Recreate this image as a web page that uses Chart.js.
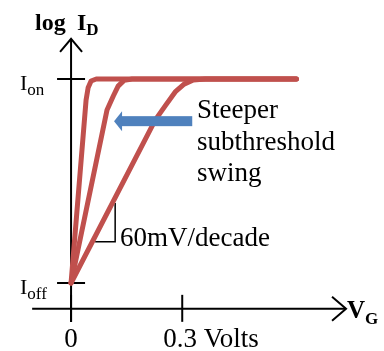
<!DOCTYPE html>
<html>
<head>
<meta charset="utf-8">
<title>Subthreshold swing</title>
<script src="https://cdn.jsdelivr.net/npm/chart.js"></script>
<style>
  html, body { margin: 0; padding: 0; background: #ffffff; }
  canvas { display: block; }
</style>
</head>
<body>
<canvas id="swingChart" width="384" height="351"></canvas>
<script>
// Gate voltage (V) vs log drain current (decades above I_off), three devices
const vgSteepest = [0, 0.0405, 0.046, 0.054, 0.068, 0.608];
const logIdSteepest = [0, 5.38, 5.74, 5.94, 6, 6];

const vgMiddle = [0, 0.097, 0.114, 0.127, 0.143, 0.165, 0.608];
const logIdMiddle = [0, 5.09, 5.5, 5.79, 5.96, 6, 6];

const vg60mV = [0, 0.227, 0.254, 0.281, 0.305, 0.330, 0.362, 0.608];
const logId60mV = [0, 4.79, 5.21, 5.62, 5.85, 5.97, 6, 6];

// axis ticks
const vgTicks = [0, 0.3];
const vgTickLabels = ['0', '0.3 Volts'];
const idTicks = [6, 0];
const idTickMain = ['I', 'I'];
const idTickSub = ['on', 'off'];

const RED = '#c0504d';
const BLUE = '#4f81bd';
const SERIF = '"Liberation Serif", "Times New Roman", serif';

function pts(xs, ys) {
    return xs.map((v, i) => ({ x: v, y: ys[i] }));
}

function curve(xs, ys) {
    return {
        data: pts(xs, ys),
        borderColor: RED,
        borderWidth: 5,
        pointRadius: 0,
        tension: 0,
        borderCapStyle: 'round',
        borderJoinStyle: 'round',
        fill: false
    };
}

// text with a subscript, left aligned at (x, y) baseline
function subText(ctx, main, sub, x, y, size, subSize, drop, bold) {
    const w = bold ? 'bold ' : '';
    ctx.font = w + size + 'px ' + SERIF;
    ctx.fillText(main, x, y);
    const mw = ctx.measureText(main).width;
    ctx.font = w + subSize + 'px ' + SERIF;
    ctx.fillText(sub, x + mw, y + drop);
}

// axes with open arrowheads and tick marks
const axesPlugin = {
    id: 'sketchAxes',
    beforeDatasetsDraw(chart) {
        const { ctx, scales: { x, y } } = chart;
        const x0 = x.getPixelForValue(0);
        const yAxis = y.getPixelForValue(-0.76);
        ctx.save();
        ctx.strokeStyle = '#000';
        ctx.lineWidth = 2;
        ctx.lineCap = 'butt';

        // vertical axis
        ctx.beginPath();
        ctx.moveTo(x0, y.getPixelForValue(-1.15));
        ctx.lineTo(x0, y.getPixelForValue(7.18));
        ctx.stroke();
        const yTip = y.getPixelForValue(7.18);
        ctx.beginPath();
        ctx.moveTo(x0 - 11, yTip + 13);
        ctx.lineTo(x0, yTip);
        ctx.lineTo(x0 + 11, yTip + 13);
        ctx.stroke();

        // horizontal axis
        const xTip = x.getPixelForValue(0.742);
        ctx.beginPath();
        ctx.moveTo(x.getPixelForValue(-0.105), yAxis);
        ctx.lineTo(xTip, yAxis);
        ctx.stroke();
        ctx.beginPath();
        ctx.moveTo(xTip - 14, yAxis - 12);
        ctx.lineTo(xTip, yAxis);
        ctx.lineTo(xTip - 14, yAxis + 12);
        ctx.stroke();

        // ticks
        vgTicks.forEach(v => {
            const px = x.getPixelForValue(v);
            ctx.beginPath();
            ctx.moveTo(px, yAxis - 14);
            ctx.lineTo(px, yAxis + 13);
            ctx.stroke();
        });
        idTicks.forEach(v => {
            const py = y.getPixelForValue(v);
            ctx.beginPath();
            ctx.moveTo(x0 - 14, py);
            ctx.lineTo(x0 + 14, py);
            ctx.stroke();
        });

        // 60mV/decade slope marker
        ctx.lineWidth = 1.5;
        ctx.beginPath();
        ctx.moveTo(x.getPixelForValue(0.065), y.getPixelForValue(1.21));
        ctx.lineTo(x.getPixelForValue(0.119), y.getPixelForValue(1.21));
        ctx.lineTo(x.getPixelForValue(0.119), y.getPixelForValue(2.35));
        ctx.stroke();
        ctx.restore();
    },
    afterDatasetsDraw(chart) {
        const { ctx, scales: { x, y } } = chart;
        ctx.save();

        // blue arrow pointing toward steeper curves
        const tipX = x.getPixelForValue(0.116);
        const tailX = x.getPixelForValue(0.327);
        const ay = y.getPixelForValue(4.76);
        ctx.fillStyle = BLUE;
        ctx.fillRect(tipX + 7, ay - 5, tailX - tipX - 7, 10);
        ctx.beginPath();
        ctx.moveTo(tipX, ay);
        ctx.lineTo(tipX + 8, ay - 10);
        ctx.lineTo(tipX + 8, ay + 10);
        ctx.closePath();
        ctx.fill();

        // labels
        ctx.fillStyle = '#000';
        ctx.textBaseline = 'alphabetic';
        ctx.textAlign = 'left';

        ctx.font = 'bold 24px ' + SERIF;
        ctx.fillText('log', 35, 30);
        subText(ctx, 'I', 'D', 77, 30, 24, 17, 5, true);
        subText(ctx, 'V', 'G', 347, 318, 25, 17, 6, true);

        idTicks.forEach((v, i) => {
            const py = y.getPixelForValue(v);
            subText(ctx, idTickMain[i], idTickSub[i], 20, py + 11, 22, 17, 5, false);
        });

        ctx.font = '27px ' + SERIF;
        ctx.textAlign = 'center';
        ctx.fillText(vgTickLabels[0], x.getPixelForValue(vgTicks[0]), 347);
        ctx.textAlign = 'left';
        ctx.fillText(vgTickLabels[1], x.getPixelForValue(vgTicks[1]) - 19, 347);

        ctx.font = '27px ' + SERIF;
        ctx.fillText('Steeper', 197, 118);
        ctx.fillText('subthreshold', 197, 150);
        ctx.fillText('swing', 197, 181);
        ctx.fillText('60mV/decade', 120, 246);

        ctx.restore();
    }
};

new Chart(document.getElementById('swingChart'), {
    type: 'line',
    data: {
        datasets: [
            curve(vg60mV, logId60mV),
            curve(vgMiddle, logIdMiddle),
            curve(vgSteepest, logIdSteepest)
        ]
    },
    options: {
        responsive: false,
        animation: false,
        devicePixelRatio: 1,
        layout: { padding: { left: 34, right: 35, top: 28, bottom: 34 } },
        scales: {
            x: { type: 'linear', min: -0.1, max: 0.75, display: false },
            y: { type: 'linear', min: -1, max: 7.5, display: false }
        },
        plugins: {
            legend: { display: false },
            tooltip: { enabled: false }
        }
    },
    plugins: [axesPlugin]
});
</script>
</body>
</html>
